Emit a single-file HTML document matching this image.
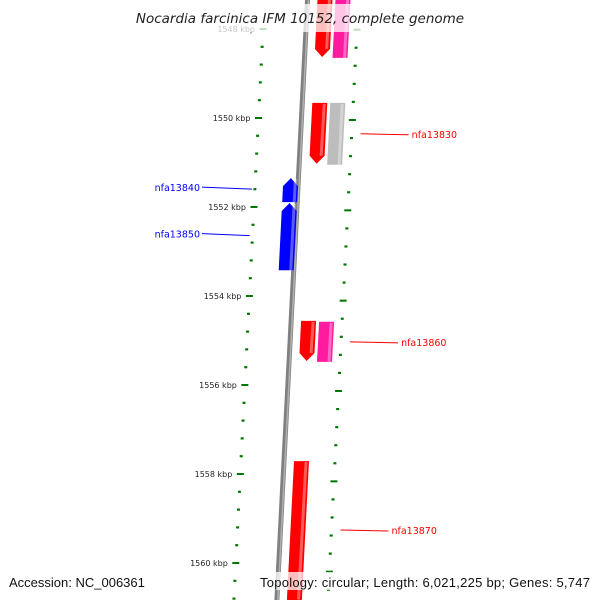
<!DOCTYPE html>
<html><head><meta charset="utf-8"><style>
html,body{margin:0;padding:0;background:#fff}
svg{display:block;font-family:"DejaVu Sans","Liberation Sans",sans-serif}
</style></head><body>
<svg id="map" width="600" height="600" viewBox="0 0 600 600"></svg>
<script>
const viewStart = 1548;
const viewEnd = 1560.5;
const majorTicks = [1548, 1550, 1552, 1554, 1556, 1558, 1560];
const geneNames = ["nfa13820a","nfa13820b","nfa13830a","nfa13830","nfa13840","nfa13850","nfa13860a","nfa13860","nfa13870"];
const geneStarts = [1547.2, 1547.2, 1549.66, 1549.66, 1551.35, 1551.91, 1554.56, 1554.58, 1557.71];
const geneEnds   = [1548.63, 1548.65, 1551.03, 1551.05, 1551.89, 1553.42, 1555.46, 1555.48, 1561.0];
const geneTracks = [1, 2, 1, 2, -1, -1, 1, 2, 1];
const geneColors = ["#ff0000","#ff1aa0","#ff0000","#bdbdbd","#0000ff","#0000ff","#ff0000","#ff1aa0","#ff0000"];
const geneArrows = [1, 0, 1, 0, -1, -1, 1, 0, 1];
const labelTexts = ["nfa13830","nfa13840","nfa13850","nfa13860","nfa13870"];
const labelGene = [3, 4, 5, 7, 8];

const NS = "http://www.w3.org/2000/svg";
const svg = document.getElementById("map");
function yOf(k){ return 29 + (k - viewStart) * 44.5; }
function bx(y){ return 307.5 - y * 0.051; }
function mk(tag, attrs){ const e = document.createElementNS(NS, tag); for (const k in attrs) e.setAttribute(k, attrs[k]); svg.appendChild(e); return e; }

const bb = mk("line", {x1: bx(-5), y1: -5, x2: bx(605), y2: 605, stroke: "#808080", "stroke-width": 5});


const bb2 = mk("line", {x1: bx(-5)+1, y1: -5, x2: bx(605)+1, y2: 605, stroke: "#b0b0b0", "stroke-width": 1.5});



for (let k = viewStart - 0.4; k <= viewEnd + 0.5; k += 0.4) {
  const kr = Math.round(k * 10) / 10;
  const y = yOf(kr);
  if (y < 20 || y > 600) continue;
  const isMajor = majorTicks.includes(kr);
  const lx = bx(y) - 43;
  const ry = y + 2 + (y - 118) * 0.015;
  const rx = bx(ry) + 51;
  const w = isMajor ? 7 : 3;
  const t1 = mk("line", {x1: lx - w/2, y1: y, x2: lx + w/2, y2: y, stroke: "#007700", "stroke-width": isMajor ? 2 : 2.2});
  
  
  const t2 = mk("line", {x1: rx - w/2, y1: ry, x2: rx + w/2, y2: ry, stroke: "#007700", "stroke-width": isMajor ? 2 : 2.2});
  
  
  if (isMajor) {
    const tl = mk("text", {x: lx - 8, y: y + 3, "font-size": 8, fill: "#222", "text-anchor": "end"});
    tl.textContent = kr + " kbp";
    
    
  }
}

const trackOff = {"1": [10, 25], "2": [28, 43], "-1": [-15, 0]};
for (let i = 0; i < geneNames.length; i++) {
  const y1 = yOf(geneStarts[i]), y2 = yOf(geneEnds[i]);
  const [o1, o2] = trackOff[geneTracks[i]];
  const a = geneArrows[i];
  const ah = 8;
  let pts;
  const P = (o, y) => (bx(y) + o).toFixed(1) + "," + y.toFixed(1);
  if (a === 1) {
    pts = [P(o1, y1), P(o2, y1), P(o2, y2 - ah), P((o1+o2)/2, y2), P(o1, y2 - ah)];
  } else if (a === -1) {
    pts = [P((o1+o2)/2, y1), P(o2, y1 + ah), P(o2, y2), P(o1, y2), P(o1, y1 + ah)];
  } else {
    pts = [P(o1, y1), P(o2, y1), P(o2, y2), P(o1, y2)];
  }
  const g = mk("polygon", {points: pts.join(" "), fill: geneColors[i]});
  
  
  const hl = mk("line", {x1: bx(y1) + o2 - 3, y1: y1 + 1, x2: bx(y2) + o2 - 3, y2: y2 - (a===1?ah:0), stroke: "#fff", "stroke-opacity": 0.35, "stroke-width": 3});
  
  
}

for (let j = 0; j < labelTexts.length; j++) {
  const gi = labelGene[j];
  let ym = (yOf(geneStarts[gi]) + yOf(Math.min(geneEnds[gi], viewEnd + 0.3))) / 2;
  const col = geneColors[gi] === "#0000ff" ? "#0000ff" : "#ff0000";
  let x1, x2, tx, anchor;
  if (geneTracks[gi] < 0) {
    ym -= 3;
    x1 = bx(ym) - 46; x2 = 202; tx = 200; anchor = "end";
  } else {
    x1 = bx(ym) + 60; x2 = x1 + 48; tx = x2 + 3; anchor = "start";
  }
  if (j === 4) ym = 530;
  const ln = mk("line", {x1: x1, y1: ym + (geneTracks[gi] < 0 ? 2 : 0), x2: x2, y2: ym + (geneTracks[gi] < 0 ? 0 : 1), stroke: col, "stroke-width": 1});
  
  
  const t = mk("text", {x: tx, y: ym + 4, "font-size": 9.5, fill: col, "text-anchor": anchor});
  t.textContent = labelTexts[j];
  
  
}

const tb = mk("rect", {x: 128, y: 4, width: 344, height: 28, fill: "#fff", "fill-opacity": 0.75});


const title = mk("text", {x: 300, y: 23, "font-size": 13.5, "font-style": "italic", fill: "#222", "text-anchor": "middle"});
title.textContent = "Nocardia farcinica IFM 10152, complete genome";


const fb1 = mk("rect", {x: 4, y: 572, width: 146, height: 18, fill: "#fff", "fill-opacity": 0.75});


const fb2 = mk("rect", {x: 256, y: 572, width: 338, height: 18, fill: "#fff", "fill-opacity": 0.75});


const acc = mk("text", {x: 9, y: 587, "font-size": 13, fill: "#111", "font-family": "Liberation Sans, sans-serif"});
acc.textContent = "Accession: NC_006361";


const topo = mk("text", {x: 590, y: 587, "font-size": 13, fill: "#111", "text-anchor": "end", "textLength": 330, "font-family": "Liberation Sans, sans-serif"});
topo.textContent = "Topology: circular; Length: 6,021,225 bp; Genes: 5,747";


</script>
</body></html>
